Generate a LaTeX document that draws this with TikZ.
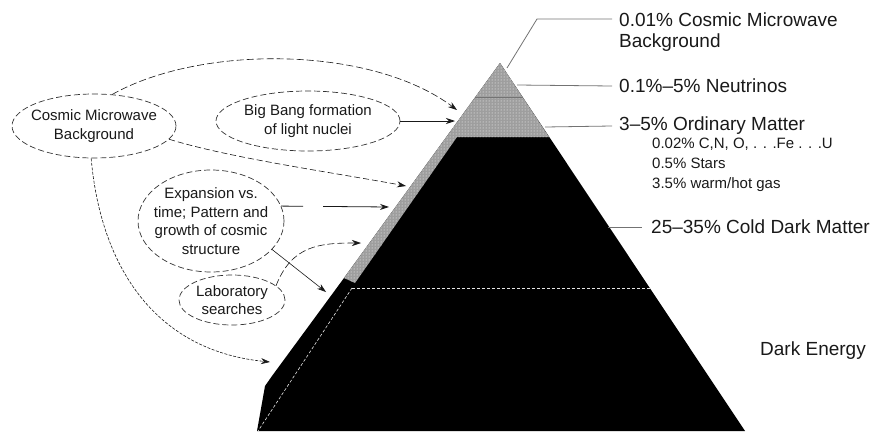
\documentclass[tikz,border=0pt]{standalone}
\usepackage{fontspec}
\setmainfont{Liberation Sans}
\usetikzlibrary{arrows.meta,patterns,shapes.geometric}
\begin{document}
\begin{tikzpicture}[x=1pt,y=-1pt,
  ell/.style={draw=black!80, dash pattern=on 6pt off 3pt, line width=0.7pt, ellipse, inner sep=0pt},
  etxt/.style={font=\fontsize{15}{18.5}\selectfont, align=center, text=black!90, inner sep=0pt},
  bigl/.style={font=\fontsize{19}{21}\selectfont, align=left, anchor=west, inner sep=0pt, text=black!90},
  smalll/.style={font=\fontsize{15}{20}\selectfont, align=left, anchor=west, inner sep=0pt, text=black!90},
  lead/.style={draw=black!55, line width=0.8pt},
  arr/.style={line width=0.6pt, draw=black!90, -{Stealth[length=9pt,width=6pt]}},
  wdash/.style={draw=white!90!black, line width=0.6pt, dash pattern=on 3pt off 2pt}
]
\useasboundingbox (0,0) rectangle (877,431);

% pyramid body
\fill[black] (500,63) -- (745,431) -- (257,431) -- (265,386) -- (272,376) -- (344,278) -- cycle;
% hatched top and strip
\fill[black!38] (500,63) -- (549,137) -- (457,137) -- (355,283) -- (344,278) -- cycle;
\fill[pattern=dots, pattern color=white] (500,63) -- (549,137) -- (457,137) -- (355,283) -- (344,278) -- cycle;
\draw[black!55, line width=0.5pt] (475,97) -- (523,97);
% white dashed separators
\draw[wdash] (352,288) -- (650,288);
\draw[wdash] (352,288) -- (258,431);

% right labels
\node[bigl] (lcmb) at (619,32.5) {0.01\% Cosmic Microwave\\Background};
\node[bigl] (lneu) at (619,86) {0.1\%--5\% Neutrinos};
\node[bigl] (lord) at (619,126) {3--5\% Ordinary Matter};
\node[smalll] (lsub) at (652,165) {0.02\% C,N, O, . . .Fe . . .U\\0.5\% Stars\\3.5\% warm/hot gas};
\node[bigl] (lcdm) at (651,227) {25--35\% Cold Dark Matter};
\node[bigl] (lde) at (760,351) {Dark Energy};

% leader lines
\coordinate (pc) at (507,68);
\coordinate (pc1) at (537,19);
\coordinate (pc2) at (612,19);
\draw[lead] (pc) -- (pc1) -- (pc2);
\coordinate (pn) at (517,85);
\draw[lead] (pn) -- ([xshift=-7pt]lneu.west);
\coordinate (po) at (545,127);
\draw[lead] (po) -- ([xshift=-7pt]lord.west);
\coordinate (pd) at (608,227);
\draw[lead] (pd) -- ([xshift=-9pt]lcdm.west);

% left ellipses
\node[ell, minimum width=164pt, minimum height=64pt,
  label={[etxt]center:{Cosmic Microwave\\Background}}] (cmb) at (94,126) {};
\node[ell, minimum width=184pt, minimum height=60pt,
  label={[etxt]center:{Big Bang formation\\of light nuclei}}] (bb) at (308,121) {};
\node[ell, minimum width=146pt, minimum height=102pt,
  label={[etxt]center:{Expansion vs.\\time; Pattern and\\growth of cosmic\\structure}}] (exp) at (211,221) {};
\node[ell, minimum width=106pt, minimum height=50pt,
  label={[etxt]center:{Laboratory\\searches}}] (lab) at (232,300) {};

% arrows
\coordinate (t1) at (457,110);
\draw[arr, dash pattern=on 7pt off 3pt] (cmb.60) .. controls (200,45) and (370,45) .. (t1);
\coordinate (t2) at (455,121);
\draw[arr, line width=0.8pt] (bb.east) -- (t2);
\coordinate (t3) at (406,186);
\draw[arr, dash pattern=on 6pt off 3pt] (cmb.-10) .. controls (230,158) and (330,172) .. (t3);
\coordinate (t4) at (389,207);
\draw[arr, line width=0.8pt, dash pattern=on 22pt off 20pt on 100pt off 1pt] (exp.12) -- (t4);
\coordinate (t5) at (326,292);
\draw[arr] (exp.-25) -- (t5);
\coordinate (t6) at (361,243);
\draw[arr, dash pattern=on 7pt off 3pt] (lab.18) .. controls (292,245) and (320,243) .. (t6);
\coordinate (t7) at (270,362);
\draw[arr, dash pattern=on 3pt off 1.5pt] (cmb.-95) .. controls (100,260) and (150,350) .. (t7);
\end{tikzpicture}
\end{document}
